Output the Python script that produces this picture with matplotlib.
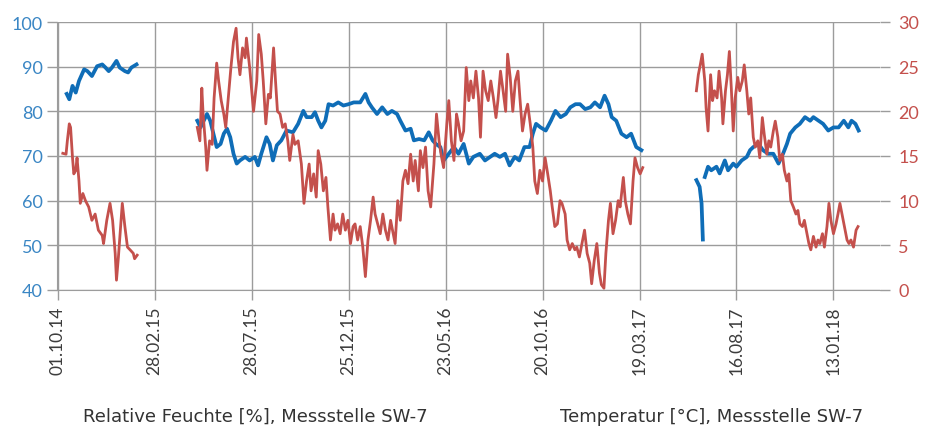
import matplotlib
matplotlib.use("Agg")
import matplotlib.pyplot as plt
import matplotlib.dates as mdates
import numpy as np
import pandas as pd

nan = np.nan

# Messbeginn, Tage danach
start = pd.Timestamp("2014-10-01")

# Relative Feuchte [%] (Tag, Wert) - nan = Messluecke
feuchte_tage = [14, 18, 23, 28, 33, 41, 46, 53, 61, 69, 74, 79, 84, 91, 96, 104, 109, 114, 122, 170,
                216, 221, 226, 231, 236, 241, 246, 252, 257, 262, 267, 272, 277, 282, 290, 297, 305, 310, 315,
                323, 328, 333, 339, 346, 354, 364, 372, 380, 385, 393, 398, 403, 408, 414, 419, 426, 434,
                442, 450, 458, 468, 476, 481, 486, 494, 502, 510, 517, 525, 530, 538, 546, 551, 559, 567,
                574, 580, 585, 592, 597, 605, 613, 620, 628, 636, 643, 653, 661, 669, 676, 684, 692, 699,
                707, 714, 722, 730, 735, 740, 747, 755, 763, 770, 778, 786, 793, 801, 808, 816, 824, 831,
                839, 846, 852, 857, 864, 872, 880, 887, 895, 903, 950,
                988, 993, 996, 998, 1000,
                1001, 1006, 1011, 1019, 1024, 1032, 1037, 1045, 1050, 1058, 1066, 1071, 1076, 1084, 1091,
                1099, 1107, 1115, 1122, 1128, 1133, 1141, 1148, 1156, 1164, 1169, 1177, 1184, 1192, 1200,
                1208, 1216, 1223, 1228, 1234, 1239]
feuchte = [83.9, 82.7, 85.7, 84.2, 86.8, 89.4, 89.0, 87.9, 90.1, 90.5, 89.8, 89.0, 89.8, 91.3, 89.8, 89.0, 88.7, 89.8, 90.5, nan,
           77.9, 76.4, 77.9, 79.4, 77.9, 75.0, 72.0, 72.7, 75.0, 76.1, 74.2, 70.5, 68.3, 69.0, 69.8, 69.0, 69.8, 67.9, 70.5,
           74.2, 72.7, 69.0, 72.4, 73.5, 75.7, 75.3, 77.2, 80.1, 78.7, 78.7, 79.8, 77.9, 76.4, 77.9, 81.6, 81.3, 82.0,
           81.3, 81.6, 82.0, 82.0, 83.9, 82.0, 80.9, 79.4, 80.9, 79.4, 80.1, 79.4, 77.9, 75.7, 76.1, 73.5, 73.8, 73.5,
           75.3, 73.5, 72.7, 72.0, 69.0, 70.5, 72.0, 70.5, 72.7, 68.3, 69.8, 70.5, 69.0, 69.8, 70.5, 69.8, 70.5, 67.9,
           69.8, 69.0, 72.0, 72.0, 75.0, 77.2, 76.4, 75.7, 77.9, 80.1, 78.7, 79.4, 80.9, 81.6, 81.6, 80.5, 80.9, 82.0,
           80.9, 83.5, 81.6, 78.7, 77.9, 75.0, 74.2, 75.0, 72.0, 71.3, nan,
           64.6, 63.1, 59.4, 51.3, nan,
           65.3, 67.6, 66.8, 67.6, 66.1, 69.0, 66.8, 68.3, 67.6, 69.0, 69.8, 71.3, 72.0, 72.7, 71.3,
           70.5, 70.5, 68.3, 70.5, 72.7, 75.0, 76.4, 77.2, 78.7, 77.9, 78.7, 77.9, 77.2, 75.7, 76.4,
           76.4, 77.9, 76.4, 77.9, 77.2, 75.7]

# Temperatur [°C] (Tag, Wert)
temp_tage = [8, 13, 15, 18, 20, 23, 25, 28, 30, 33, 35, 39, 43, 48, 53, 58, 63, 69, 71, 76, 81, 85, 89, 91, 94,
             97, 100, 104, 108, 112, 117, 119, 123, 170,
             216, 220, 223, 225, 229, 231, 235, 239, 242, 246, 249, 253, 257, 260, 264, 268, 272, 276, 279, 282,
             286, 290, 292, 297, 303, 308, 311, 315, 318, 322, 326, 329, 334, 337, 340, 344, 348, 352, 356, 359,
             364, 367, 372, 377, 381, 385, 389, 392, 396, 400, 403, 407, 411, 415, 418, 422, 426, 429, 433, 437,
             441, 445, 449, 453, 457, 460, 464, 468, 472, 476, 480, 484, 488, 491, 496, 499, 503, 507, 511, 515,
             519, 522, 526, 530, 534, 538, 542, 546, 550, 553, 558, 561, 565, 569, 573, 577, 582, 586, 590, 593,
             597, 602, 605, 609, 613, 617, 620, 624, 628, 632, 636, 639, 643, 647, 651, 654, 658, 662, 666, 670,
             674, 678, 681, 685, 689, 693, 696, 700, 704, 708, 712, 715, 719, 723, 727, 731, 735, 738, 742, 746,
             750, 754, 758, 762, 765, 769, 773, 777, 780, 785, 788, 792, 796, 800, 803, 807, 811, 815, 819, 823,
             826, 830, 834, 838, 841, 845, 848, 852, 855, 859, 863, 867, 870, 875, 878, 882, 886, 890, 893, 897,
             901, 905, 950,
             988, 991, 994, 997, 1001, 1003, 1006, 1010, 1013, 1016, 1020, 1023, 1027, 1029, 1033, 1036, 1039,
             1042, 1045, 1048, 1052, 1055, 1059, 1062, 1066, 1069, 1072, 1076, 1079, 1083, 1086, 1090, 1093,
             1097, 1100, 1103, 1107, 1110, 1114, 1117, 1121, 1124, 1128, 1131, 1134, 1138, 1142, 1145, 1148,
             1152, 1155, 1159, 1162, 1165, 1169, 1173, 1176, 1179, 1183, 1186, 1190, 1193, 1196, 1200, 1204,
             1207, 1210, 1214, 1217, 1221, 1224, 1227, 1231, 1235, 1238]
temp = [15.3, 15.2, 16.7, 18.6, 18.2, 14.8, 13.0, 13.4, 14.8, 12.2, 9.7, 10.8, 10.0, 9.3, 7.8, 8.5, 6.7, 6.1, 5.2, 7.8, 9.7, 7.8, 4.1, 1.1, 3.7,
        6.7, 9.7, 7.1, 4.8, 4.5, 4.1, 3.5, 3.9, nan,
        18.2, 16.7, 22.6, 19.7, 16.0, 13.4, 16.7, 16.3, 21.5, 25.4, 23.4, 21.2, 19.7, 18.2, 21.5, 24.9, 27.8, 29.3, 26.0, 24.1,
        27.1, 26.0, 28.2, 24.9, 20.0, 23.4, 28.6, 26.4, 23.4, 18.6, 21.9, 21.5, 27.1, 23.4, 20.0, 19.7, 18.2, 18.6, 16.7, 14.5,
        17.4, 16.3, 16.7, 14.1, 9.7, 12.2, 14.1, 11.1, 13.0, 10.4, 15.6, 14.1, 11.1, 12.6, 9.3, 5.6, 8.5, 6.7, 7.4, 6.3,
        8.5, 6.7, 7.8, 5.2, 7.1, 7.4, 5.6, 7.1, 4.8, 1.5, 5.6, 7.8, 10.4, 8.5, 7.1, 6.3, 8.5, 6.7, 5.6, 7.8,
        6.3, 5.2, 10.0, 7.8, 12.2, 13.4, 11.9, 15.2, 12.2, 14.5, 11.1, 15.6, 13.7, 16.0, 11.1, 9.3, 14.1, 19.7, 16.7, 15.2,
        13.7, 18.6, 21.2, 16.7, 14.5, 19.7, 18.6, 16.7, 17.8, 24.9, 21.2, 23.4, 21.5, 24.5, 21.5, 17.1, 24.5, 22.3, 21.2, 23.4,
        21.5, 19.3, 21.2, 24.5, 22.3, 20.0, 26.4, 23.8, 20.0, 23.4, 24.5, 21.5, 17.8, 19.7, 20.8, 18.6, 16.0, 12.2, 10.8, 13.4,
        12.2, 14.8, 13.0, 11.1, 9.3, 7.1, 7.4, 10.0, 9.7, 8.5, 5.6, 4.5, 5.2, 4.5, 4.8, 3.7, 5.2, 6.7, 4.1, 3.0,
        0.7, 3.3, 5.2, 1.9, 0.6, 0.2, 4.1, 7.8, 9.7, 6.3, 7.8, 10.0, 9.3, 12.6, 10.0, 8.5, 7.4, 12.2, 14.8, 13.7,
        13.0, 13.7, nan,
        22.3, 24.1, 25.2, 26.4, 23.4, 20.4, 17.8, 24.1, 21.2, 22.3, 21.5, 24.5, 21.5, 18.6, 22.3, 24.1, 26.7,
        22.6, 17.8, 21.5, 23.8, 22.3, 23.4, 25.2, 22.3, 19.7, 21.5, 17.1, 16.0, 16.7, 14.8, 19.3, 17.4,
        15.2, 16.7, 16.0, 17.8, 18.9, 17.1, 14.5, 15.2, 13.4, 12.2, 13.0, 10.0, 9.3, 8.5, 8.9, 7.4,
        7.1, 7.8, 6.3, 5.2, 4.5, 6.0, 4.8, 5.6, 5.2, 6.3, 4.8, 7.1, 9.7, 7.8, 6.3, 7.4,
        8.5, 9.7, 8.2, 7.1, 5.6, 5.2, 5.6, 4.8, 6.7, 7.1]

# Achsenbeschriftung alle 150 Tage
tick_tage = [0, 150, 300, 450, 600, 750, 900, 1050, 1200]

BLUE = '#0F6DB7'
RED = '#C4504C'
GRID = '#9C9C9C'

d_f = start + pd.to_timedelta(feuchte_tage, unit='D')
d_t = start + pd.to_timedelta(temp_tage, unit='D')
ticks = start + pd.to_timedelta(tick_tage, unit='D')

plt.rcParams['font.family'] = ['Lato', 'DejaVu Sans']

fig = plt.figure(figsize=(9.28, 4.27), dpi=100)
ax = fig.add_axes([57/928, 1-291/427, (880-57)/928, (291-23)/427])
ax2 = ax.twinx()

ax.plot(d_f, feuchte, color=BLUE, lw=2.7, solid_joinstyle='round', zorder=3)
ax2.plot(d_t, temp, color=RED, lw=2.0, solid_joinstyle='round', zorder=3)

ax.set_xlim(start - pd.Timedelta(days=1), start + pd.Timedelta(days=1272))
ax.set_ylim(40, 100)
ax2.set_ylim(0, 30)
ax.set_yticks(range(40, 101, 10))
ax2.set_yticks(range(0, 31, 5))
ax.set_xticks(ticks)
ax.xaxis.set_major_formatter(mdates.DateFormatter('%d.%m.%y'))

ax.grid(True, color=GRID, lw=1)
ax.set_axisbelow(True)
for a in (ax, ax2):
    for s in a.spines.values():
        s.set_visible(False)
ax.spines['left'].set_visible(True)
ax.spines['left'].set_color(GRID)
ax.spines['bottom'].set_visible(True)
ax.spines['bottom'].set_color(GRID)

ax.tick_params(axis='y', colors=GRID, labelcolor='#3A86C4', labelsize=13, length=7, width=1, pad=3)
ax2.tick_params(axis='y', colors=GRID, labelcolor='#C4504C', labelsize=13, length=7, width=1, pad=6)
ax.tick_params(axis='x', colors=GRID, labelcolor='#3C3C3C', labelsize=12.5, length=7, width=1, pad=4,
               labelrotation=90)

fig.text(255/928, 1-417/427, 'Relative Feuchte [%], Messstelle SW-7', ha='center', va='center',
         fontsize=13, color='#333333', family='DejaVu Sans')
fig.text(712/928, 1-417/427, 'Temperatur [°C], Messstelle SW-7', ha='center', va='center',
         fontsize=13, color='#333333', family='DejaVu Sans')

fig.savefig('out.png', dpi=100, facecolor='white')
